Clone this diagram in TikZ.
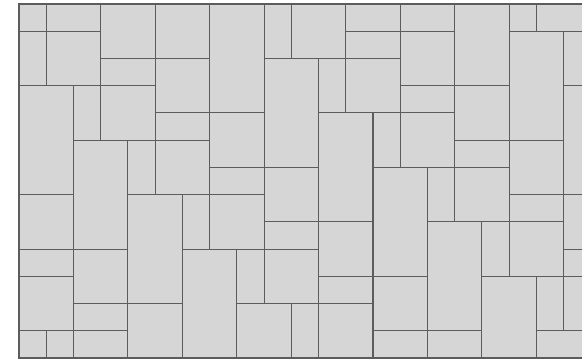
\documentclass[tikz,border=0pt]{standalone}
\definecolor{tilefill}{RGB}{214,214,214}
\definecolor{tileedge}{RGB}{92,92,92}
\tikzset{tile/.style={fill=tilefill,draw=tileedge,line width=0.9pt}}
\begin{document}
\begin{tikzpicture}[x=0.03cm,y=-0.03cm]
\useasboundingbox (0,0) rectangle (582,362);
\fill[white] (0,0) rectangle (582,362);
\clip (0,0) rectangle (582,362);
\def\u{27.23}
\foreach \a/\b/\c/\d in {
0/0/1/1, 1/0/3/1, 0/1/1/3, 1/1/3/3, 3/0/5/2, 3/2/5/3, 5/0/7/2, 5/2/7/4, 5/4/7/5,
7/0/9/4, 7/4/9/6, 7/6/9/7, 9/0/10/2, 10/0/12/2, 12/0/14/1, 12/1/14/2,
14/0/16/1, 14/1/16/3, 14/3/16/4, 14/4/16/6, 16/0/18/3, 16/3/18/5, 16/5/18/6, 16/6/18/8,
18/0/19/1, 19/0/21/1, 18/1/20/5, 20/1/22/3, 20/3/22/7, 18/5/20/7, 18/7/20/8,
20/7/22/9, 20/9/22/10, 18/8/20/10, 17/8/18/10, 15/6/16/8, 15/8/17/12, 15/12/17/13,
17/10/19/13, 19/10/20/12, 20/10/22/12, 19/12/21/13,
0/3/2/7, 2/3/3/5, 3/3/5/5, 2/5/4/9, 4/5/5/7, 5/5/7/7,
0/7/2/9, 0/9/2/10, 0/10/2/12, 0/12/1/13, 1/12/2/13,
2/9/4/11, 2/11/4/12, 2/12/4/13, 4/7/6/11, 4/11/6/13,
6/7/7/9, 6/9/8/13, 7/7/9/9, 8/9/9/11, 8/11/10/13, 10/11/11/13,
9/9/11/11, 9/8/11/9, 9/6/11/8, 9/2/11/6,
11/2/12/4, 12/2/14/4, 11/4/13/8, 11/8/13/10, 11/10/13/11, 11/11/13/13,
13/4/14/6, 13/6/15/10, 13/10/15/12, 13/12/15/13}
{
  \draw[tile] ({19+\a*\u},{4+\b*\u}) rectangle ({19+\c*\u},{4+\d*\u});
}
\end{tikzpicture}
\end{document}
